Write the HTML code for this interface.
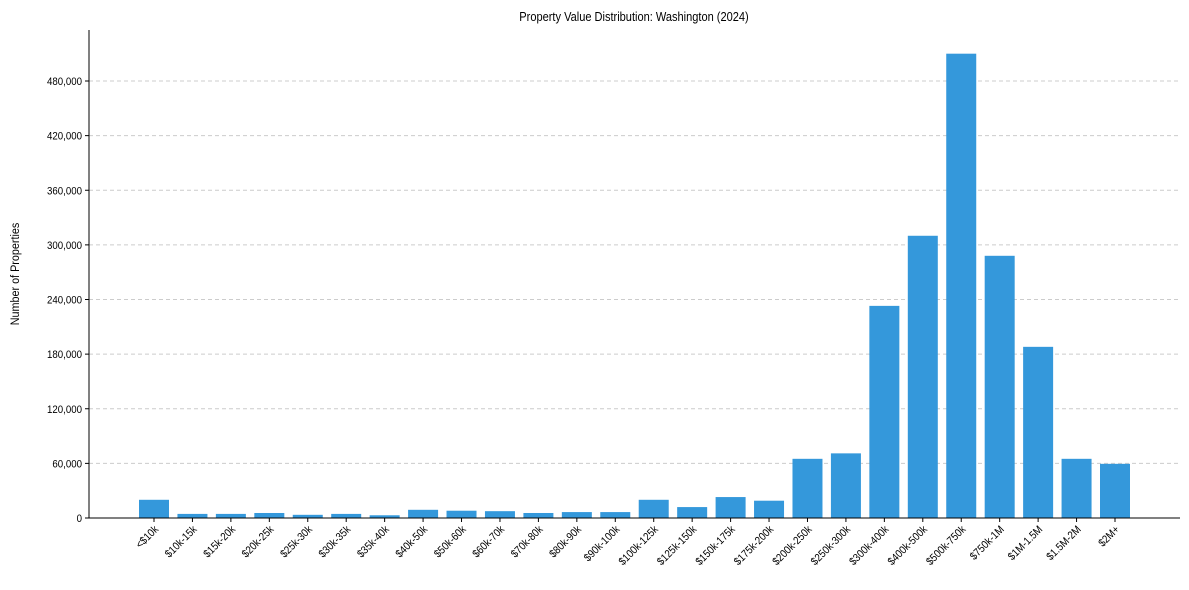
<!DOCTYPE html>
<html><head><meta charset="utf-8"><style>
body{margin:0;background:#fff;}
svg{display:block;font-family:"Liberation Sans",Arial,sans-serif;}
</style></head><body>
<svg id="chart" width="1189" height="590">
<text transform="translate(634,21) scale(0.85,1)" text-anchor="middle" font-size="13">Property Value Distribution: Washington (2024)</text>
<text transform="translate(19,274) rotate(-90) scale(0.9,1)" text-anchor="middle" font-size="12">Number of Properties</text>
<g id="grid"></g><g id="bars"></g><g id="axes"></g>
</svg>
<script>
const categories=["<$10k","$10k-15k","$15k-20k","$20k-25k","$25k-30k","$30k-35k","$35k-40k","$40k-50k","$50k-60k","$60k-70k","$70k-80k","$80k-90k","$90k-100k","$100k-125k","$125k-150k","$150k-175k","$175k-200k","$200k-250k","$250k-300k","$300k-400k","$400k-500k","$500k-750k","$750k-1M","$1M-1.5M","$1.5M-2M","$2M+"];
const values=[20000,4500,4500,5500,3500,4500,3000,9000,8000,7500,5500,6500,6500,20000,12000,23000,19000,65000,71000,233000,310000,510000,288000,188000,65000,59500];
const yTicks=[0,60000,120000,180000,240000,300000,360000,420000,480000];
const ns="http://www.w3.org/2000/svg";
const x0=89,x1=1180,yBase=518,yTop=30;
const y=v=>yBase-v*(437/480000);
const step=38.44,first=154;
const x=i=>first+i*step;
const bw=30;
function mk(t,a,p){const e=document.createElementNS(ns,t);for(const k in a)e.setAttribute(k,a[k]);p.appendChild(e);return e;}
const grid=document.getElementById('grid'),bars=document.getElementById('bars'),axes=document.getElementById('axes');
yTicks.forEach(v=>{
 if(v>0){const g=mk('line',{x1:x0,x2:x1,y1:y(v),y2:y(v),stroke:'#cccccc','stroke-dasharray':'4,3'},grid);
 
 }
 mk('line',{x1:x0-4,x2:x0,y1:y(v),y2:y(v),stroke:'#000'},axes);
 const t=mk('text',{transform:`translate(${x0-7},${y(v)+4}) scale(0.88,1)`,'text-anchor':'end','font-size':'11'},axes);
 t.textContent=v.toLocaleString('en-US');
 
 
});
values.forEach((v,i)=>{
 const r=mk('rect',{x:x(i)-bw/2,y:y(v),width:bw,height:yBase-y(v),fill:'#3498db'},bars);
 
 
 mk('line',{x1:x(i),x2:x(i),y1:yBase,y2:yBase+4,stroke:'#000'},axes);
 const t=mk('text',{transform:`translate(${x(i)+5},${yBase+12}) rotate(-45) scale(0.88,1)`,'text-anchor':'end','font-size':'11'},axes);
 t.textContent=categories[i];
 
 
});
const ax=mk('line',{x1:x0,x2:x0,y1:yTop,y2:yBase,stroke:'#000'},axes);


const bx=mk('line',{x1:x0,x2:x1,y1:yBase,y2:yBase,stroke:'#000'},axes);


</script>
</body></html>
